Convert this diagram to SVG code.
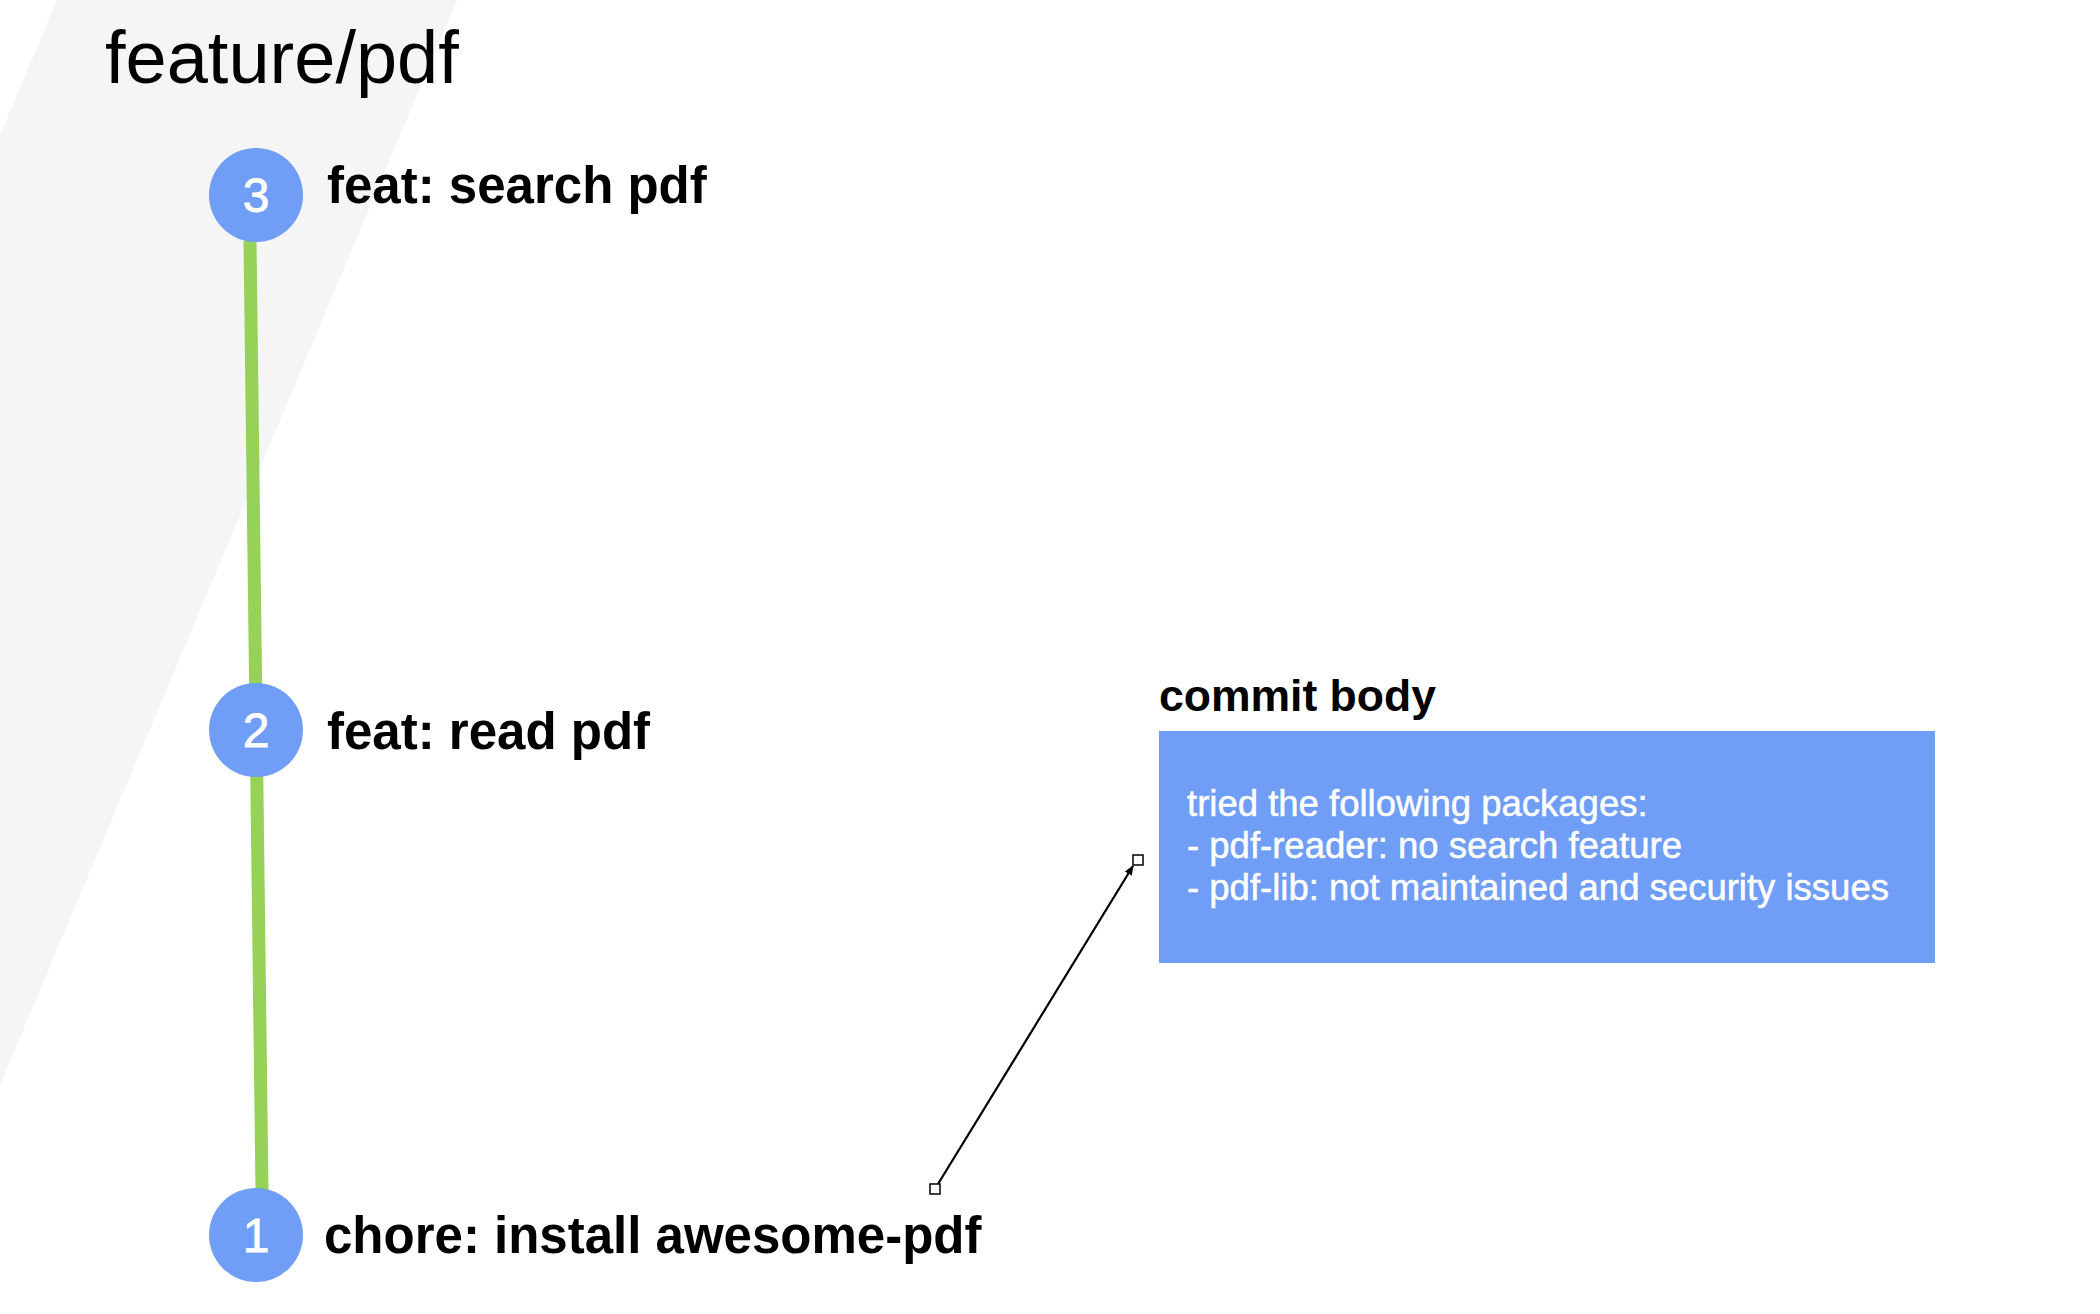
<svg xmlns="http://www.w3.org/2000/svg" width="2100" height="1314" viewBox="0 0 2100 1314">
<style>
.bg{fill:#f5f5f5}
.dot{fill:#709df5}
.num{font-family:"Liberation Sans",Arial,sans-serif;font-size:48px;fill:#ffffff;text-anchor:middle;stroke:#ffffff;stroke-width:0.8}
.lbl{font-family:"Liberation Sans",Arial,sans-serif;font-size:51px;font-weight:bold;fill:#000000}
.body{font-family:"Liberation Sans",Arial,sans-serif;font-size:36.5px;fill:#ffffff;stroke:#ffffff;stroke-width:0.5}
.handle{fill:#ffffff;stroke:#000000;stroke-width:1.5}
</style>
<defs>
<marker id="ah" markerWidth="10" markerHeight="10" refX="9" refY="5" orient="auto" markerUnits="userSpaceOnUse">
<path d="M0,1 L10,5 L0,9 Z" fill="#000000"/>
</marker>
</defs>
<rect width="2100" height="1314" fill="#ffffff"/>
<polygon class="bg" points="57,0 457,0 0,1085 0,135"/>
<text x="105" y="83" font-family="Liberation Sans, Arial, sans-serif" font-size="74" fill="#000000">feature/pdf</text>
<g id="branch">
<line x1="250" y1="241" x2="262" y2="1190" stroke="#96d158" stroke-width="13"/>
</g>
<g id="connectors">
<line x1="938" y1="1184" x2="1133" y2="866" stroke="#000000" stroke-width="2.2" marker-end="url(#ah)"/>
<rect class="handle" x="930" y="1184" width="10" height="10"/>
<rect class="handle" x="1133" y="855" width="10" height="10"/>
</g>
<g id="commit3">
<circle class="dot" cx="256" cy="195" r="47"/>
<text class="num" x="256" y="212">3</text>
<text class="lbl" x="327" y="203">feat: search pdf</text>
</g>
<g id="commit2">
<circle class="dot" cx="256" cy="730" r="47"/>
<text class="num" x="256" y="747">2</text>
<text class="lbl" x="327" y="749">feat: read pdf</text>
</g>
<g id="commit1">
<circle class="dot" cx="256" cy="1235" r="47"/>
<text class="num" x="256" y="1252">1</text>
<text class="lbl" x="324" y="1253">chore: install awesome-pdf</text>
</g>
<g id="commit-body">
<text x="1159" y="711" font-family="Liberation Sans, Arial, sans-serif" font-size="44.5" font-weight="bold" fill="#000000">commit body</text>
<rect class="dot" x="1159" y="731" width="776" height="232"/>
<text class="body" x="1187" y="816">tried the following packages:</text>
<text class="body" x="1187" y="858">- pdf-reader: no search feature</text>
<text class="body" x="1187" y="900">- pdf-lib: not maintained and security issues</text>
</g>
</svg>
